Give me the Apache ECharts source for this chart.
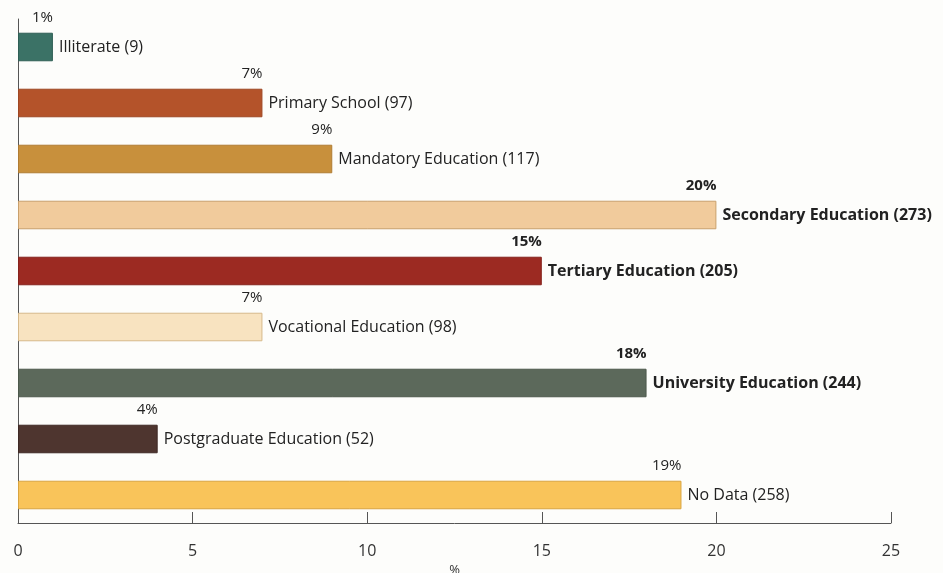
<!DOCTYPE html>
<html><head><meta charset="utf-8">
<script src="https://cdn.jsdelivr.net/npm/echarts@6/dist/echarts.min.js"></script>
<style>html,body{margin:0;padding:0;background:#fdfdfb}#c{width:943px;height:573px}</style>
</head><body><div id="c"></div>
<script>
const categories = ["Illiterate", "Primary School", "Mandatory Education", "Secondary Education", "Tertiary Education", "Vocational Education", "University Education", "Postgraduate Education", "No Data"];
const percents = [1, 7, 9, 20, 15, 7, 18, 4, 19];
const counts = [9, 97, 117, 273, 205, 98, 244, 52, 258];
const highlighted = [false, false, false, true, true, false, true, false, false];
const xTicks = [0, 5, 10, 15, 20, 25];
const colors = ["#3b7266", "#b4532a", "#c8903c", "#f1cb9c", "#9c2a22", "#f8e3c0", "#5c695b", "#4e352f", "#f9c45a"];
const borders = ["#2f5f55", "#9f4723", "#b07c32", "#c9a06c", "#86231d", "#d6b98a", "#4d594c", "#3f2a25", "#d9a440"];

const font = "'Open Sans', 'Noto Sans', sans-serif";
const chart = echarts.init(document.getElementById('c'));
chart.setOption({
  backgroundColor: '#fdfdfb',
  animation: false,
  grid: {left: 18, right: 52, top: 19, bottom: 50, containLabel: false, outerBoundsMode: 'none'},
  xAxis: {
    type: 'value', min: xTicks[0], max: xTicks[xTicks.length-1], interval: 5,
    name: '%', nameLocation: 'middle', nameGap: 35,
    nameTextStyle: {fontFamily: font, fontSize: 13, color: '#333'},
    axisLine: {show: true, lineStyle: {color: '#555', width: 1}},
    axisTick: {show: true, inside: true, length: 11, lineStyle: {color: '#555'}},
    axisLabel: {margin: 20, fontFamily: font, fontSize: 16, color: '#333'},
    splitLine: {show: false}
  },
  yAxis: {
    type: 'category', inverse: true, data: categories,
    axisLine: {show: true, lineStyle: {color: '#555'}},
    axisTick: {show: false}, axisLabel: {show: false}
  },
  series: [
    {
      type: 'bar', barWidth: '51%',
      data: percents.map((v, i) => ({
        value: v,
        itemStyle: {color: colors[i], borderColor: borders[i], borderWidth: 1},
        label: {fontWeight: highlighted[i] ? 'bold' : 'normal'}
      })),
      label: {
        show: true, position: 'right', distance: 6,
        fontFamily: font, fontSize: 16, color: '#222',
        formatter: p => categories[p.dataIndex] + ' (' + counts[p.dataIndex] + ')'
      }
    },
    {
      type: 'bar', barWidth: '51%', barGap: '-100%', silent: true,
      data: percents.map((v, i) => ({
        value: v,
        label: {fontWeight: highlighted[i] ? 'bold' : 'normal'}
      })),
      itemStyle: {color: 'rgba(0,0,0,0)'},
      label: {
        show: true, position: ['100%', -7], align: 'right', verticalAlign: 'bottom',
        fontFamily: font, fontSize: 15, color: '#222',
        formatter: p => percents[p.dataIndex] + '%'
      }
    }
  ]
});
</script></body></html>
